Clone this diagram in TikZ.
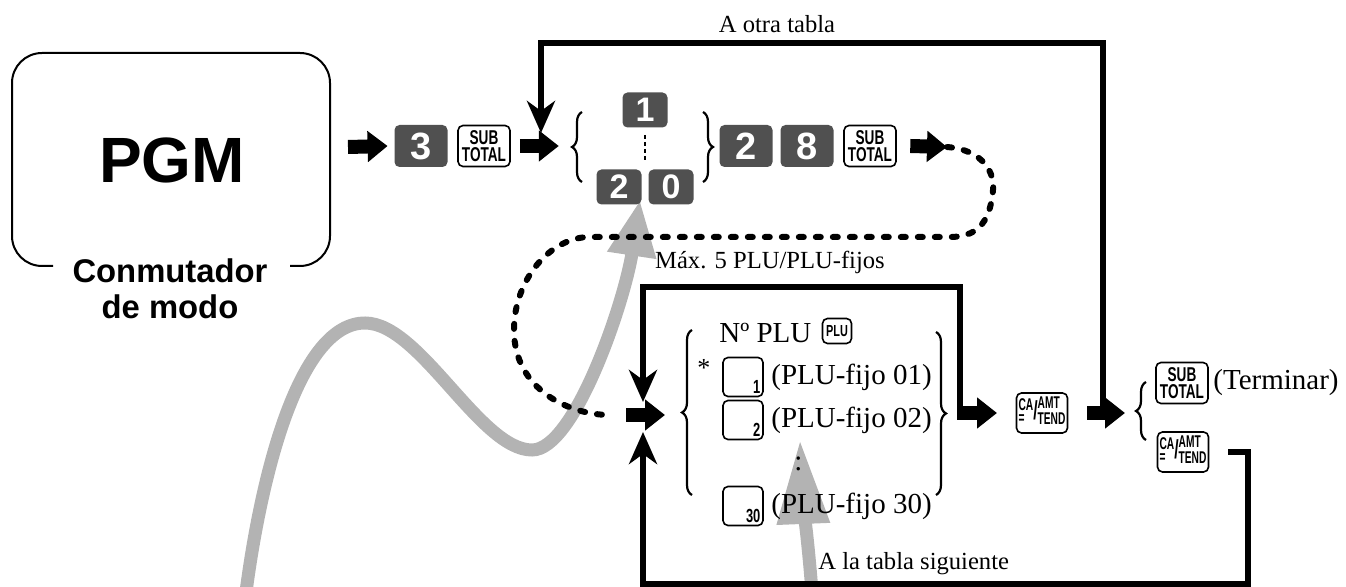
\documentclass[tikz,border=0pt]{standalone}
\usepackage{fontspec}
\setmainfont{Liberation Serif}
\newfontfamily\sansfont{Liberation Sans}
\newfontfamily\keyfont[FakeStretch=0.68]{Liberation Sans}
\newfontfamily\narrowfont[FakeStretch=0.6]{Liberation Sans}
\usetikzlibrary{arrows.meta, decorations.pathreplacing}
\definecolor{keygray}{HTML}{505050}
\definecolor{trailgray}{HTML}{B3B3B3}
\newcommand{\caamt}{{\narrowfont\bfseries\fontsize{8.5}{7.5}\selectfont\renewcommand{\arraystretch}{0.9}%
  \begin{tabular}{@{}l@{}}CA\\=\end{tabular}%
  \raisebox{-1.5pt}{\fontsize{13}{13}\selectfont/}%
  \begin{tabular}{@{}l@{}}AMT\\TEND\end{tabular}}}

\begin{document}
\begin{tikzpicture}[x=0.5pt, y=-0.5pt,
    darkkey/.style={fill=keygray, rounded corners=2.5pt, text=white, inner sep=0pt,
      font=\sansfont\bfseries\fontsize{19}{19}\selectfont, minimum width=26.5pt, minimum height=21pt},
    smallkey/.style={darkkey, minimum width=22.5pt, minimum height=17.5pt,
      font=\sansfont\bfseries\fontsize{17}{17}\selectfont},
    whitekey/.style={draw, fill=white, line width=0.8pt, rounded corners=2.5pt, inner sep=0pt, align=center,
      font=\keyfont\bfseries\fontsize{10}{8.5}\selectfont, minimum width=26pt, minimum height=20.5pt},
    numkey/.style={whitekey, minimum width=20pt, minimum height=19.5pt,
      label={[anchor=south east, inner sep=1.5pt, font=\keyfont\bfseries\fontsize{9.5}{9.5}\selectfont]south east:#1}},
    note/.style={font=\fontsize{12.3}{14}\selectfont, inner sep=0pt},
    item/.style={font=\fontsize{14.5}{16}\selectfont, anchor=west, inner sep=0pt},
    fatarrow/.style={line width=7pt, -{Triangle[length=10pt,width=15pt]}},
    loopline/.style={line width=2.8pt, -{Stealth[length=16pt,width=14pt,inset=5pt]}},
    dotline/.style={line width=3pt, line cap=round, dash pattern=on 2.5pt off 6pt},
    trail/.style={draw=trailgray, line width=6.5pt},
    bracefig/.style={decorate, decoration={brace, amplitude=5pt}, line width=1.1pt}]
    \useasboundingbox (0,0) rectangle (1346,587);

    % Gray trails behind
    \draw[trail, -{Triangle[length=28pt,width=23pt]}] (246,592) .. controls (262,470) and (300,323) .. (365,323)
        .. controls (420,323) and (480,450) .. (532,450) .. controls (575,450) and (625,300) .. (640,200);
    \draw[trail, -{Triangle[length=42pt,width=25pt]}] (812,592) .. controls (808,540) and (802,490) .. (800,440);

    % Mode switch
    \draw[line width=1pt, rounded corners=15pt] (53,266) -- (12,266) -- (12,53) -- (330,53) -- (330,266) -- (290,266);
    \node[font=\sansfont\bfseries\fontsize{32}{32}\selectfont] (pgm) at (172,160) {PGM};
    \node[font=\sansfont\bfseries\fontsize{16.4}{18}\selectfont, align=center] (mode) at (170,289) {Conmutador\\de modo};

    % Top row of keys
    \node[darkkey] (k3) at (421,146) {3};
    \node[whitekey] (st1) at (484,146) {SUB\\TOTAL};
    \node[smallkey] (k1) at (645,110) {1};
    \node[smallkey] (k2) at (619,187) {2};
    \node[smallkey] (k0) at (671,187) {0};
    \draw[line width=0.8pt, dash pattern=on 2pt off 1.5pt, shorten <=3.5pt, shorten >=3.5pt] (k1.south) -- (k1.south |- k0.north);
    \draw[bracefig] (582,182) -- (582,112);
    \draw[bracefig] (703,112) -- (703,182);
    \node[darkkey] (k2b) at (746,146) {2};
    \node[darkkey] (k8) at (807,146) {8};
    \node[whitekey] (st2) at (870,146) {SUB\\TOTAL};

    % Fat arrows
    \coordinate (a1) at (348,147);
    \draw[fatarrow] (a1) -- ([xshift=-3.25pt]k3.west);
    \draw[fatarrow] ([xshift=4.5pt]st1.east) -- ++(39,0);
    \coordinate (dotstart) at (947,147);
    \draw[fatarrow] ([xshift=6.75pt]st2.east) -- (dotstart);
    \coordinate (a4) at (626,415);
    \draw[fatarrow] (a4) -- ++(39,0);
    \coordinate (a5) at (957,413);
    \draw[fatarrow] (a5) -- ++(40,0);
    \coordinate (a6) at (1087,413);
    \draw[fatarrow] (a6) -- ++(38,0);

    % Dotted return
    \draw[dotline, shorten >=8pt] (dotstart) .. controls (985,150) and (995,175) .. (993,190)
        .. controls (990,225) and (975,237) .. (950,237) -- (590,237)
        .. controls (550,237) and (514,280) .. (514,330) .. controls (514,390) and (570,415) .. (a4);

    % Labels
    \node[note] (otra) at (777,24) {A otra tabla};
    \node[note] (maxplu) at (770,262) {Máx. 5 PLU/PLU-fijos};
    \node[note, anchor=west] (sig) at (818,564) {A la tabla siguiente};

    % PLU list
    \draw[bracefig] (692,495) -- (692,330);
    \draw[bracefig] (936,332) -- (936,495);
    \node[item] (nplu) at (719,333) {Nº PLU};
    \node[whitekey, minimum width=14.5pt, minimum height=12.5pt,
      font=\keyfont\bfseries\fontsize{8}{8}\selectfont] (plukey) at (837,331) {PLU};
    \node[item, font=\fontsize{13}{13}\selectfont] (star) at (697,368) {*};
    \node[numkey=1] (f1) at (743,377) {};
    \node[item] (t1) at (771,377) {(PLU-fijo 01)};
    \node[numkey=2] (f2) at (743,420) {};
    \node[item] (t2) at (771,420) {(PLU-fijo 02)};
    \node[item] (dots) at (794,464) {:};
    \node[numkey=30] (f30) at (743,506) {};
    \node[item] (t30) at (771,506) {(PLU-fijo 30)};

    % Right side
    \node[whitekey, minimum width=25.5pt, minimum height=20pt] (ca1) at (1042,413) {\caamt};
    \draw[bracefig] (1146,440) -- (1146,382);
    \node[whitekey] (st3) at (1182,383) {SUB\\TOTAL};
    \node[item] (term) at (1213,383) {(Terminar)};
    \node[whitekey, minimum width=25.5pt, minimum height=20pt] (ca2) at (1183,452) {\caamt};

    % Loop connectors
    \coordinate (intop) at (541,133);
    \coordinate (othertop) at (800,43);
    \coordinate (other) at (1103,406);
    \draw[loopline] (other) |- (othertop) -| (intop);
    \coordinate (boxtop) at (800,287);
    \coordinate (fixed) at (960,406);
    \coordinate (plutop) at (643,402);
    \draw[loopline] (fixed) |- (boxtop) -| (plutop);
    \coordinate (next) at (1228,452);
    \coordinate (bot) at (1248,584);
    \coordinate (plubot) at (643,432);
    \draw[loopline] (next) -| (bot) -| (plubot);
\end{tikzpicture}
\end{document}
